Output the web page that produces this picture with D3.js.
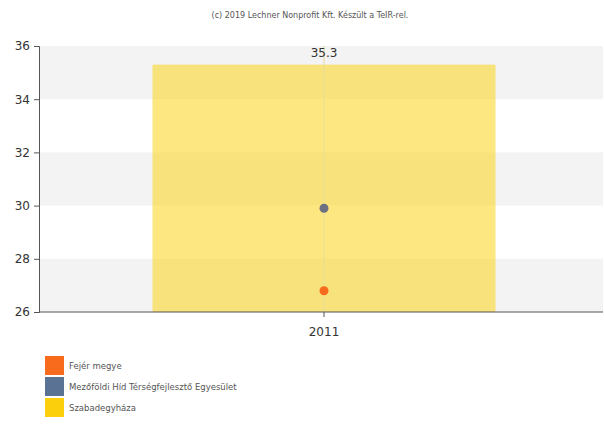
<!DOCTYPE html>
<html><head><meta charset="utf-8">
<script src="https://cdn.jsdelivr.net/npm/d3@7"></script>
<style>body{margin:0;background:#fff;font-family:Tahoma,"DejaVu Sans",Verdana,sans-serif}</style>
</head><body><svg id="c" width="604" height="428"></svg>
<script>
const categories = ["2011"];
const barSeries = "Szabadegyháza";
const barValues = [35.3];
const pointSeries = ["Fejér megye", "Mezőföldi Híd Térségfejlesztő Egyesület"];
const pointValues = [[26.8], [29.9]];
const legendNames = ["Fejér megye", "Mezőföldi Híd Térségfejlesztő Egyesület", "Szabadegyháza"];
const legendColors = ["#f96b1c", "#5a7394", "#fbcf0c"];
const yTicks = [26, 28, 30, 32, 34, 36];
const credit = "(c) 2019 Lechner Nonprofit Kft. Készült a TeIR-rel.";

const svg = d3.select("#c");
const L = 39, R = 603, T = 46, B = 312;
const y = d3.scaleLinear().domain([26, 36]).range([B, T]);
const x = d3.scaleBand().domain(categories).range([L + 3, R + 3]).paddingInner(0).paddingOuter(0.322);

svg.append("text").attr("x", 310).attr("y", 18).attr("text-anchor", "middle")
  .attr("font-size", 8).attr("fill", "#555").text(credit);

for (let i = 0; i < yTicks.length - 1; i++) {
  if (i % 2 === 0) {
    svg.append("rect").attr("x", L).attr("width", R - L)
      .attr("y", y(yTicks[i + 1])).attr("height", y(yTicks[i]) - y(yTicks[i + 1]))
      .attr("fill", "#f3f3f3");
  }
}

const bw = x.bandwidth();
svg.selectAll(".bar").data(barValues).join("rect")
  .attr("x", (d, i) => x(categories[i]))
  .attr("width", bw)
  .attr("y", d => y(d)).attr("height", d => B - y(d))
  .attr("fill", "#fbd31a").attr("fill-opacity", 0.55);

svg.selectAll(".vg").data(categories).join("line")
  .attr("x1", d => x(d) + bw / 2).attr("x2", d => x(d) + bw / 2)
  .attr("y1", T).attr("y2", B).attr("stroke", "#e8dc9a").attr("stroke-width", 1);

svg.selectAll(".bl").data(barValues).join("text")
  .attr("x", (d, i) => x(categories[i]) + bw / 2).attr("y", d => y(d) - 8)
  .attr("text-anchor", "middle").attr("font-size", 12).attr("fill", "#333")
  .text(d => d.toFixed(1));

const ptColors = [legendColors[0], "#6b7180"];
pointSeries.forEach((s, si) => {
  svg.selectAll(".p" + si).data(pointValues[si]).join("circle")
    .attr("cx", (d, i) => x(categories[i]) + bw / 2).attr("cy", d => y(d))
    .attr("r", 4.5).attr("fill", ptColors[si]);
});

const ya = svg.append("g").attr("transform", `translate(${L},0)`)
  .call(d3.axisLeft(y).tickValues(yTicks).tickSize(5).tickPadding(4).tickFormat(d3.format("d")));
ya.select(".domain").attr("stroke", "#555");
ya.selectAll(".tick line").attr("stroke", "#555");
ya.selectAll("text").attr("font-size", 12).attr("fill", "#333").attr("font-family", "Tahoma,'DejaVu Sans',sans-serif");

const xa = svg.append("g").attr("transform", `translate(0,${B})`)
  .call(d3.axisBottom(x).tickSize(5).tickPadding(10));
xa.select(".domain").attr("stroke", "#555").attr("d", `M${L},0H${R}`);
xa.selectAll(".tick line").attr("stroke", "#555");
xa.selectAll("text").attr("font-size", 12).attr("fill", "#333").attr("font-family", "Tahoma,'DejaVu Sans',sans-serif");

const lg = svg.append("g");
legendNames.forEach((n, i) => {
  lg.append("rect").attr("x", 45).attr("y", 356 + i * 21).attr("width", 19).attr("height", 19)
    .attr("fill", legendColors[i]);
  lg.append("text").attr("x", 69).attr("y", 369 + i * 21).attr("font-size", 8.5)
    .attr("fill", "#555").text(n);
});
</script></body></html>
